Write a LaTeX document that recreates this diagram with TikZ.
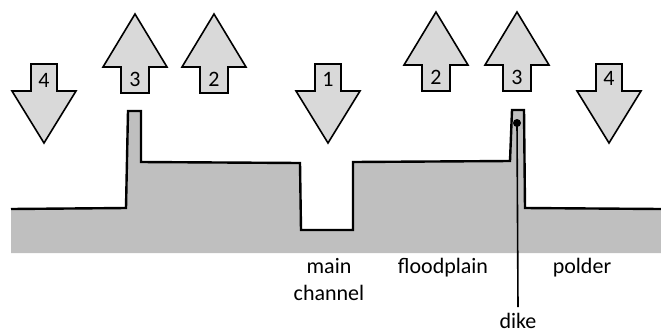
\documentclass[tikz,border=0pt]{standalone}
\usepackage{fontspec}
\setmainfont{Carlito}
\definecolor{arrowfill}{HTML}{D9D9D9}
\definecolor{groundfill}{HTML}{BFBFBF}
\tikzset{
  x=1pt, y=-1pt,
  arrowshape/.style={draw=black, fill=arrowfill, line width=1.6pt, line join=miter},
  numlabel/.style={inner sep=0pt, font=\fontsize{22}{26}\selectfont},
  lbl/.style={inner sep=0pt, anchor=base, font=\fontsize{22}{27}\selectfont, align=center},
  uparr/.pic={\path[arrowshape] (-14,13) -- (-14,-13) -- (-32,-13) -- (0,-66) -- (32,-13) -- (14,-13) -- (14,13) -- cycle;},
  downarr/.pic={\path[arrowshape] (-13,-14) -- (-13,13) -- (-32,13) -- (0,65) -- (32,13) -- (13,13) -- (13,-14) -- cycle;}
}
\begin{document}
\begin{tikzpicture}
\useasboundingbox (0,0) rectangle (661,333);
% ground
\fill[groundfill] (11,209) -- (126,208) -- (128,111) -- (141,111) -- (141,162) -- (300,163) -- (301,230) -- (353,230) -- (353,162) -- (510,161) -- (512,110) -- (524,110) -- (525,208) -- (661,209) -- (661,253) -- (11,253) -- cycle;
\draw[line width=2.4pt, line join=miter] (11,209) -- (126,208) -- (128,111) -- (141,111) -- (141,162) -- (300,163) -- (301,230) -- (353,230) -- (353,162) -- (510,161) -- (512,110) -- (524,110) -- (525,208) -- (661,209);
% arrows
\pic at (44,78) {downarr};
\node[numlabel] (a4l) at (44,80) {4};
\pic at (135,80) {uparr};
\node[numlabel] (a3l) at (135,79) {3};
\pic at (214,80) {uparr};
\node[numlabel] (a2l) at (214,79) {2};
\pic at (328,78) {downarr};
\node[numlabel] (a1) at (328,79) {1};
\pic at (436,78) {uparr};
\node[numlabel] (a2r) at (436,77) {2};
\pic at (517,78) {uparr};
\node[numlabel] (a3r) at (517,77) {3};
\pic at (609,78) {downarr};
\node[numlabel] (a4r) at (609,78) {4};
% labels
\node[lbl] (main) at (329,300) {main\\channel};
\node[lbl] (flood) at (443,273) {floodplain};
\node[lbl] (polder) at (582,273) {polder};
\node[lbl] (dike) at (518,328) {dike};
\coordinate (dikept) at (517,123);
\fill (dikept) circle (4);
\draw[line width=1.6pt] (dikept) -- (dike.north |- 0,307);
\end{tikzpicture}
\end{document}
